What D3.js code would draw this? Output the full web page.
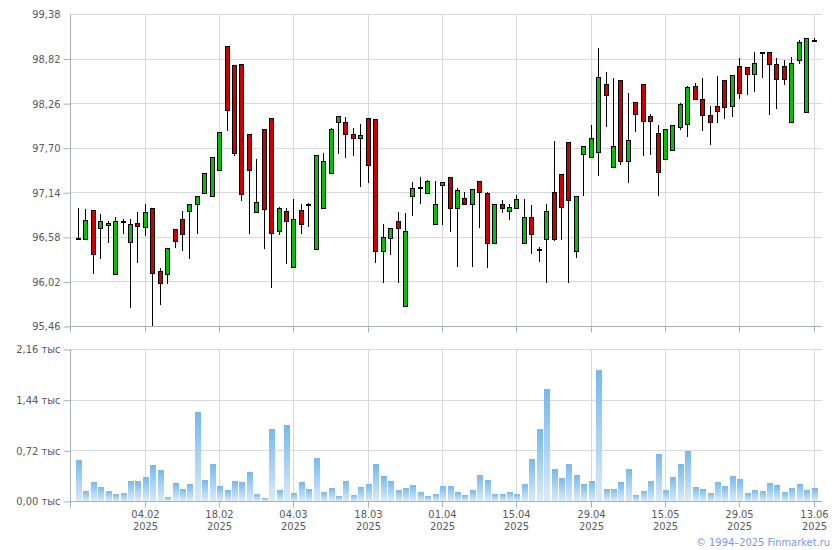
<!DOCTYPE html>
<html><head><meta charset="utf-8">
<script src="https://cdn.jsdelivr.net/npm/d3@7/dist/d3.min.js"></script>
<style>body{margin:0;background:#fff}svg{display:block}</style>
</head><body><svg id="c" width="840" height="550"></svg>
<script>
// ---- data ----
const openP  = [96.56,96.55,96.92,96.69,96.73,96.11,96.78,96.52,96.75,96.71,
                96.94,96.15,96.11,96.68,96.80,96.90,96.99,97.13,97.09,97.42,
                98.98,98.74,98.75,97.87,96.89,97.94,98.07,96.65,96.91,96.20,
                96.92,96.99,96.43,96.94,97.38,98.02,98.02,97.87,97.82,98.07,
                98.06,96.40,96.57,96.78,95.71,97.09,97.21,97.13,96.74,97.23,
                97.33,96.94,97.07,96.99,97.28,97.13,96.50,96.99,96.905,96.94,
                96.50,96.83,96.43,96.55,97.14,97.37,97.77,96.40,97.62,97.58,
                97.65,98.50,97.46,98.55,97.53,98.27,98.50,98.10,97.885,97.56,
                97.67,97.96,98.00,98.475,98.31,98.11,98.22,98.55,98.22,98.73,
                98.71,98.63,98.90,98.90,98.75,98.73,98.02,98.80,98.15,99.05];
const highP  = [96.94,96.93,96.92,96.87,96.78,96.83,96.80,96.80,96.89,96.99,
                96.94,96.19,96.44,96.68,96.90,96.99,97.09,97.38,97.58,97.90,
                98.98,98.74,98.75,97.87,97.56,97.94,98.07,96.95,96.94,97.06,
                96.99,97.00,97.61,97.63,97.95,98.10,98.09,97.95,98.00,98.07,
                98.06,96.74,96.69,96.89,96.88,97.27,97.33,97.29,97.28,97.27,
                97.33,97.19,97.14,97.18,97.28,97.14,96.99,97.04,96.99,97.11,
                97.06,96.98,96.45,96.99,97.79,97.37,97.77,97.09,97.72,97.99,
                98.95,98.65,98.58,98.55,98.39,98.27,98.50,98.12,97.985,97.94,
                97.985,98.26,98.475,98.51,98.58,98.22,98.60,98.55,98.61,98.83,
                98.71,98.90,98.90,98.90,98.83,98.80,98.84,99.05,99.08,99.08];
const lowP   = [96.55,96.55,96.13,96.31,96.51,96.11,96.63,95.70,96.26,96.60,
                95.47,95.74,96.00,96.45,96.41,96.32,96.63,97.13,97.09,97.42,
                97.92,97.61,97.04,96.63,96.89,96.44,95.95,96.61,96.25,96.20,
                96.63,96.72,96.43,96.94,97.38,97.63,97.58,97.61,97.22,97.27,
                96.26,96.01,96.365,96.01,95.71,96.85,97.01,97.13,96.74,96.74,
                96.65,96.21,96.99,96.21,96.71,96.20,96.50,96.89,96.80,96.94,
                96.50,96.38,96.28,96.01,96.54,96.55,96.01,96.33,97.11,97.58,
                97.36,97.97,97.46,97.50,97.27,97.91,97.61,97.62,97.11,97.56,
                97.67,97.94,97.85,98.31,97.92,97.75,98.02,98.07,98.10,98.325,
                98.375,98.41,98.59,98.12,98.20,98.50,98.02,98.765,98.15,99.05];
const closeP = [96.56,96.79,96.36,96.78,96.75,96.78,96.78,96.74,96.72,96.89,
                96.13,96.00,96.44,96.53,96.62,96.99,97.09,97.38,97.58,97.90,
                98.17,97.63,97.12,97.42,97.02,96.93,96.63,96.94,96.78,96.80,
                96.74,96.99,97.61,97.53,97.94,98.10,97.87,97.82,97.86,97.48,
                96.40,96.58,96.69,96.69,96.65,97.19,97.21,97.28,96.99,97.27,
                96.94,97.17,96.99,97.18,97.14,96.50,96.99,96.94,96.955,97.06,
                96.83,96.62,96.43,96.905,96.55,96.96,97.04,97.09,97.72,97.82,
                98.59,98.36,97.72,97.53,97.80,98.12,98.04,98.04,97.395,97.94,
                97.985,98.25,98.46,98.31,98.11,98.02,98.16,98.21,98.61,98.39,
                98.63,98.765,98.90,98.75,98.56,98.56,98.765,99.03,99.08,99.05];
const volume = [0.587,0.147,0.275,0.204,0.147,0.104,0.118,0.289,0.289,0.346,
                0.516,0.445,0.062,0.26,0.175,0.246,1.27,0.303,0.53,0.218,
                0.161,0.289,0.275,0.417,0.104,0.047,1.028,0.161,1.085,0.118,
                0.275,0.175,0.616,0.133,0.19,0.076,0.289,0.09,0.204,0.246,
                0.53,0.36,0.289,0.161,0.19,0.232,0.133,0.076,0.104,0.218,
                0.218,0.133,0.09,0.161,0.374,0.303,0.104,0.104,0.133,0.104,
                0.246,0.60,1.028,1.596,0.46,0.332,0.53,0.374,0.246,0.289,
                1.866,0.175,0.175,0.275,0.46,0.09,0.147,0.289,0.673,0.161,
                0.346,0.53,0.715,0.204,0.175,0.118,0.275,0.218,0.36,0.317,
                0.118,0.161,0.147,0.26,0.232,0.133,0.19,0.246,0.161,0.19];
const dateTickIndex = [9,19,29,39,49,59,69,79,89,99];
const dateTickLabel = ["04.02","18.02","04.03","18.03","01.04","15.04","29.04","15.05","29.05","13.06"];
const dateTickYear  = ["2025","2025","2025","2025","2025","2025","2025","2025","2025","2025"];
const priceTicks = [95.46,96.02,96.58,97.14,97.70,98.26,98.82,99.38];
const volumeTicks = [0,0.72,1.44,2.16];
const copyright = "\u00a9 1994\u20132025 Finmarket.ru";

// ---- drawing ----
const FONT = "'DejaVu Sans Condensed', 'DejaVu Sans', Verdana, sans-serif";
const FS = 11;
const GRID = "#d5d9dd", AXIS = "#a9afb5", TXT = "#555a60";
const svg = d3.select('#c');
const L = 70, R = 822;
const x = d3.scaleLinear().domain([-1.077, 100.13]).range([L, R]);
const yP = d3.scaleLinear().domain([95.46, 99.38]).range([326, 14]);
const yV = d3.scaleLinear().domain([0, 2.16]).range([501, 349]);
const px = v => Math.round(v) + 0.5;
const fmt = v => v.toFixed(2).replace('.', ',');

const defs = svg.append('defs');
const g = defs.append('linearGradient').attr('id','vg').attr('x1',0).attr('y1',0).attr('x2',0).attr('y2',1);
g.append('stop').attr('offset','0%').attr('stop-color','#74b9ef');
g.append('stop').attr('offset','100%').attr('stop-color','#dceaf8');

// gridlines
const grid = svg.append('g');
grid.selectAll('.hp').data(priceTicks).join('line')
  .attr('x1', L).attr('x2', R).attr('y1', d => px(yP(d))).attr('y2', d => px(yP(d)))
  .attr('stroke', GRID);
grid.selectAll('.hv').data(volumeTicks).join('line')
  .attr('x1', L).attr('x2', R).attr('y1', d => px(yV(d))).attr('y2', d => px(yV(d)))
  .attr('stroke', GRID);
grid.selectAll('.vp').data(dateTickIndex).join('line')
  .attr('x1', d => px(x(d))).attr('x2', d => px(x(d))).attr('y1', yP.range()[1]).attr('y2', yP.range()[0])
  .attr('stroke', GRID);
grid.selectAll('.vv').data(dateTickIndex).join('line')
  .attr('x1', d => px(x(d))).attr('x2', d => px(x(d))).attr('y1', yV.range()[1]).attr('y2', yV.range()[0])
  .attr('stroke', GRID);

// volume bars
svg.append('g').selectAll('rect').data(volume).join('rect')
  .attr('x', (d,i) => Math.round(x(i)) - 2)
  .attr('width', 6)
  .attr('y', d => Math.round(yV(d)))
  .attr('height', d => Math.round(yV(0)) - Math.round(yV(d)))
  .attr('fill', 'url(#vg)');

// candles
const candles = svg.append('g');
const idx = d3.range(openP.length);
candles.selectAll('line').data(idx).join('line')
  .attr('x1', i => px(x(i))).attr('x2', i => px(x(i)))
  .attr('y1', i => Math.round(yP(highP[i]))).attr('y2', i => Math.round(yP(lowP[i])) + 1)
  .attr('stroke', '#000').attr('stroke-width', 1);
candles.selectAll('rect').data(idx).join('rect')
  .attr('x', i => Math.round(x(i)) - 1.5)
  .attr('width', 4)
  .attr('y', i => px(yP(Math.max(openP[i], closeP[i]))))
  .attr('height', i => Math.max(1, Math.round(yP(Math.min(openP[i], closeP[i]))) - Math.round(yP(Math.max(openP[i], closeP[i])))))
  .attr('fill', i => closeP[i] > openP[i] ? '#0dbb0d' : (closeP[i] < openP[i] ? '#cc0000' : '#000'))
  .attr('stroke', '#000').attr('stroke-width', 1);

// axes
function styleAxis(sel) {
  sel.select('.domain').remove();
  sel.selectAll('.tick line').attr('stroke', AXIS);
  sel.selectAll('.tick text').attr('fill', TXT).attr('font-family', FONT).attr('font-size', FS);
}
const ayP = svg.append('g').attr('transform', `translate(${L + 0.5},0.5)`)
  .call(d3.axisLeft(yP).tickValues(priceTicks).tickFormat(fmt).tickSize(7).tickPadding(3));
styleAxis(ayP);
ayP.selectAll('.tick').filter(d => d === 99.38).select('line').remove();
ayP.selectAll('.tick text').attr('dy', '0.36em').attr('y', -0.5);

const ayV = svg.append('g').attr('transform', `translate(${L + 0.5},0.5)`)
  .call(d3.axisLeft(yV).tickValues(volumeTicks).tickFormat(d => '').tickSize(7));
styleAxis(ayV);
ayV.selectAll('.tick text').remove();
ayV.selectAll('.tick').append('text')
  .attr('x', -10).attr('y', -0.5).attr('dy', '0.36em').attr('text-anchor', 'end')
  .attr('font-family', FONT).attr('font-size', FS)
  .call(t => { t.append('tspan').attr('fill', TXT).text(d => fmt(d) + ' ');
               t.append('tspan').attr('fill', '#6a4d6e').text('тыс'); });

// x axes (tick marks)
const axP = svg.append('g').attr('transform', `translate(0.5,${px(yP(95.46))})`)
  .call(d3.axisBottom(x).tickValues(dateTickIndex).tickFormat('').tickSize(6));
axP.selectAll('.tick').attr('transform', d => `translate(${Math.round(x(d))},0)`);
styleAxis(axP);
const axV = svg.append('g').attr('transform', `translate(0.5,${px(yV(0))})`)
  .call(d3.axisBottom(x).tickValues(dateTickIndex).tickFormat('').tickSize(6));
axV.selectAll('.tick').attr('transform', d => `translate(${Math.round(x(d))},0)`);
styleAxis(axV);
axV.selectAll('.tick text').remove();
axV.selectAll('.tick').append('text').attr('y', 13).attr('dy', '0.36em').attr('text-anchor', 'middle')
  .attr('fill', TXT).attr('font-family', FONT).attr('font-size', FS)
  .text((d,i) => dateTickLabel[i]);
axV.selectAll('.tick').append('text').attr('y', 24.5).attr('dy', '0.36em').attr('text-anchor', 'middle')
  .attr('fill', TXT).attr('font-family', FONT).attr('font-size', FS)
  .text((d,i) => dateTickYear[i]);

// axis lines
const axisLines = svg.append('g').attr('stroke', AXIS);
axisLines.append('line').attr('x1', L + 0.5).attr('x2', L + 0.5).attr('y1', yP.range()[1]).attr('y2', px(yP(95.46)) + 6);
axisLines.append('line').attr('x1', L + 0.5).attr('x2', L + 0.5).attr('y1', yV.range()[1]).attr('y2', px(yV(0)) + 6);
axisLines.append('line').attr('x1', L).attr('x2', R).attr('y1', px(yP(95.46))).attr('y2', px(yP(95.46)));
axisLines.append('line').attr('x1', L).attr('x2', R).attr('y1', px(yV(0))).attr('y2', px(yV(0)));

// copyright
svg.append('text').attr('x', 830).attr('y', 546).attr('text-anchor', 'end')
  .attr('fill', '#7d97e4').attr('font-family', FONT).attr('font-size', FS)
  .text(copyright);
</script>
</body></html>
